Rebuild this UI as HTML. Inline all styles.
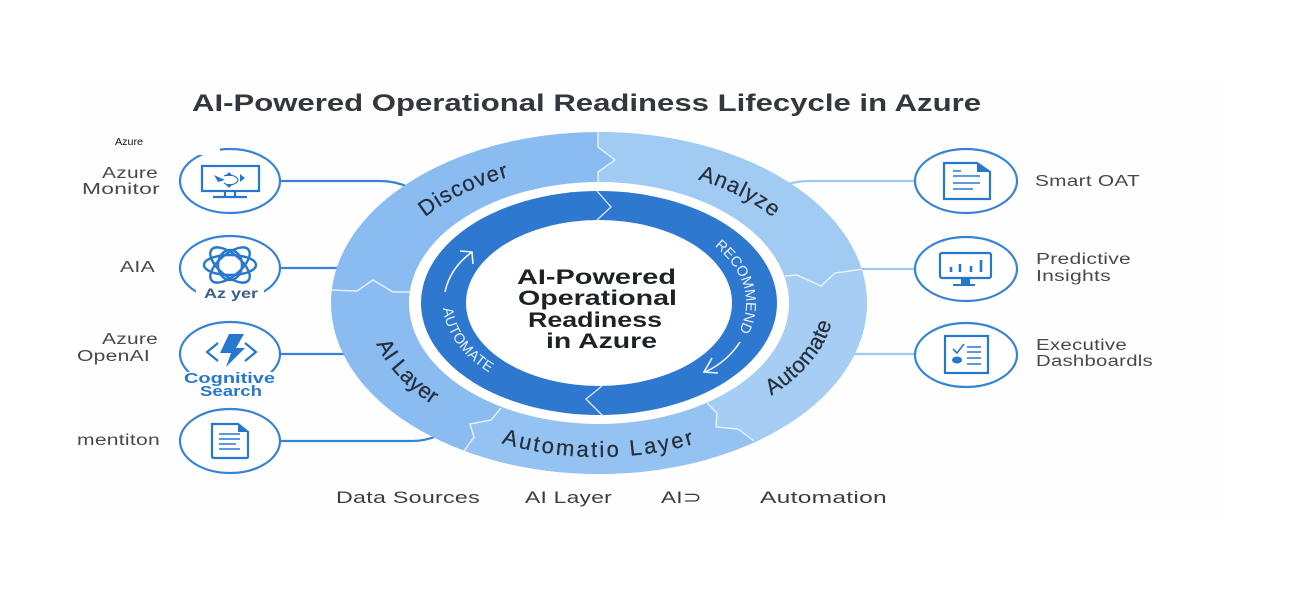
<!DOCTYPE html>
<html lang="en"><head><meta charset="utf-8"><title>AI-Powered Operational Readiness Lifecycle in Azure</title>
<style>
html,body{margin:0;padding:0;background:#fff;width:1300px;height:600px;overflow:hidden}
svg{display:block;position:absolute;left:0;top:0}
text{font-family:"Liberation Sans",sans-serif}
.l{font-size:15.5px;fill:#454a50;letter-spacing:.2px}
.t{font-size:21px;font-weight:bold;fill:#1f2328}
.r{font-size:22px;fill:#262f3b;letter-spacing:1.1px;stroke:#262f3b;stroke-width:.25px}
.w{font-size:14.5px;fill:#e6f0fb}
.ic{fill:none;stroke:#2878cf;stroke-width:2.2}
.c{fill:#fff;stroke:#3483d6;stroke-width:2.2}
</style></head><body>
<svg width="1300" height="600" viewBox="0 0 1300 600" xmlns="http://www.w3.org/2000/svg">
<defs>
<clipPath id="outer"><ellipse cx="599" cy="303" rx="268" ry="171"/></clipPath>
<path id="pTop" d="M377,303 A222,138 0 0 1 821,303"/>
<path id="pRight" d="M599,439 A235,136 0 0 0 599,167"/>
<path id="pBot" d="M367,303 A232,146 0 0 0 831,303"/>
<path id="pAuto" d="M364,303 A235,154 0 0 0 834,303"/>
<path id="pInL" d="M443,303 A156,98 0 0 0 755,303"/>
<path id="pInR" d="M599,211 A147,92 0 0 1 599,395"/>
<filter id="soft" x="0" y="0" width="100%" height="100%"><feGaussianBlur stdDeviation="0.3"/></filter>
</defs>
<rect x="78" y="78" width="1144" height="444" fill="#fefefe"/>
<g filter="url(#soft)">
<text x="192" y="111" textLength="789" lengthAdjust="spacingAndGlyphs" style="font-size:24px;font-weight:bold;fill:#33373c">AI-Powered Operational Readiness Lifecycle in Azure</text>

<!-- connectors -->
<g fill="none" stroke-width="2.2">
<path d="M281,181 H380 Q395,181 408,187" stroke="#3483d6"/>
<path d="M281,268 H340" stroke="#3483d6"/>
<path d="M281,354 H345" stroke="#3483d6"/>
<path d="M281,441 H412 Q425,441 437,436" stroke="#3483d6"/>
<path d="M788,184 Q798,181 810,181 H914" stroke="#9cc8f2"/>
<path d="M855,269 H914" stroke="#9cc8f2"/>
<path d="M850,354 H914" stroke="#9cc8f2"/>
</g>

<!-- outer ring -->
<ellipse cx="599" cy="303" rx="268" ry="171" fill="#8abcf1"/>
<g clip-path="url(#outer)">
<path d="M598,120 V147 L615,160 L598,172 V200 L785,276 L797,275 L821,286 L835,273 L880,267 V120 Z" fill="#a2cbf3"/>
<path d="M785,276 L797,275 L821,286 L835,273 L880,267 V400 L754,441 L738,429 L716,427 L717,413 L707,403 L700,330 Z" fill="#a6cdf3"/>
<path d="M501,408 L491,420 L470,424 L474,437 L464,451 L480,490 H760 L754,441 L738,429 L716,427 L717,413 L707,403 L600,380 Z" fill="#94c3f2"/>
<g fill="none" stroke="#e8f2fc" stroke-width="1.4">
<path d="M598,130 V147 L615,160 L598,172 V184"/>
<path d="M329,290 L357,291 L373,280 L393,292 L410,292"/>
<path d="M785,276 L797,275 L821,286 L835,273 L864,269"/>
<path d="M707,403 L717,413 L716,427 L738,429 L754,441"/>
<path d="M501,408 L491,420 L470,424 L474,437 L464,451"/>
</g>
</g>
<ellipse cx="599" cy="303" rx="190" ry="121" fill="#fff"/>
<ellipse cx="599" cy="303" rx="178" ry="112" fill="#2f79cf"/>
<g fill="none" stroke="#dbe9f8" stroke-width="1.3">
<path d="M597,191 L611,207 L597,220"/>
<path d="M602,386 L586,399 L603,416"/>
</g>
<ellipse cx="599" cy="303" rx="133" ry="83" fill="#fff"/>

<!-- ring labels -->
<text class="r"><textPath href="#pTop" startOffset="26%" text-anchor="middle">Discover</textPath></text>
<text class="r"><textPath href="#pTop" startOffset="75%" text-anchor="middle">Analyze</textPath></text>
<text class="r" style="letter-spacing:.4px"><textPath href="#pRight" startOffset="38.5%" text-anchor="middle">Automate</textPath></text>
<text class="r" style="letter-spacing:.2px"><textPath href="#pBot" startOffset="14%" text-anchor="middle">AI Layer</textPath></text>
<text class="r" style="letter-spacing:2.5px"><textPath href="#pAuto" startOffset="50%" text-anchor="middle">Automatio Layer</textPath></text>
<text class="w" style="letter-spacing:.4px"><textPath href="#pInL" startOffset="11.5%" text-anchor="middle">AUTOMATE</textPath></text>
<text class="w"><textPath href="#pInR" startOffset="45%" text-anchor="middle">RECOMMEND</textPath></text>

<!-- inner arrows -->
<g fill="none" stroke="#eef5fc" stroke-width="1.6">
<path d="M445,292 Q450,268 472,252 M460,251 L472,252 L473,264"/>
<path d="M740,342 Q727,362 705,372 M712,358 L704,372 L718,373"/>
</g>

<!-- center text -->
<text class="t" x="517" y="284" textLength="159" lengthAdjust="spacingAndGlyphs">AI-Powered</text>
<text class="t" x="518" y="305" textLength="159" lengthAdjust="spacingAndGlyphs">Operational</text>
<text class="t" x="528" y="327" textLength="134" lengthAdjust="spacingAndGlyphs">Readiness</text>
<text class="t" x="546" y="348" textLength="111" lengthAdjust="spacingAndGlyphs">in Azure</text>

<!-- left circles -->
<ellipse class="c" cx="230" cy="181" rx="50" ry="32"/>
<rect x="196" y="145" width="24" height="10" fill="#fefefe"/>
<ellipse class="c" cx="230" cy="268" rx="50" ry="32"/>
<rect x="196" y="286" width="68" height="16" fill="#fefefe"/>
<ellipse class="c" cx="230" cy="354" rx="50" ry="32"/>
<rect x="184" y="372" width="92" height="28" fill="#fefefe"/>
<ellipse class="c" cx="230" cy="441" rx="50" ry="32"/>

<!-- monitor icon -->
<rect class="ic" x="202" y="166" width="57" height="25"/>
<path class="ic" d="M225,191 V197 M235,191 V197 M213,197 H247"/>
<path d="M225,180 L214,175 L218,182 Z M229,172 L233,176 H225 Z M229,188 L233,184 H225 Z M245,178 L240,174 V182 Z" fill="#2878cf"/>
<path d="M224,176 Q229,173 236,177 Q240,180 236,183 Q229,187 224,183" fill="none" stroke="#2878cf" stroke-width="1.2"/>

<!-- knot icon -->
<g fill="none" stroke="#2878cf" stroke-width="2.4">
<ellipse cx="230" cy="265" rx="26" ry="10"/>
<ellipse cx="230" cy="265" rx="24" ry="11" transform="rotate(40 230 265)"/>
<ellipse cx="230" cy="265" rx="24" ry="11" transform="rotate(-40 230 265)"/>
<ellipse cx="230" cy="265" rx="12" ry="15"/>
</g>
<text x="204" y="298" textLength="54" lengthAdjust="spacingAndGlyphs" style="font-size:14px;font-weight:bold;fill:#3a5f88">Az yer</text>

<!-- bolt icon -->
<path d="M229,334 H244 L236,348 H245 L226,367 L231,353 H220 Z" fill="#2878cf"/>
<path d="M218,343 L207,352 L218,361 M245,343 L256,352 L245,361" fill="none" stroke="#2878cf" stroke-width="2.2"/>
<text x="184" y="383" textLength="91" lengthAdjust="spacingAndGlyphs" style="font-size:14.5px;font-weight:bold;fill:#2878cf">Cognitive</text>
<text x="200" y="396" textLength="62" lengthAdjust="spacingAndGlyphs" style="font-size:14.5px;font-weight:bold;fill:#2878cf">Search</text>

<!-- doc icon left -->
<path class="ic" d="M212,424 H238 L248,432 V457 Q248,458 246,458 H214 Q212,458 212,456 Z"/>
<path d="M238,424 L248,432 H238 Z" fill="#2878cf"/>
<path class="ic" d="M219,434 H240 M219,439 H240 M219,444 H236 M219,449 H240" style="stroke-width:1.5"/>

<!-- right circles -->
<ellipse class="c" cx="966" cy="181" rx="51" ry="32"/>
<ellipse class="c" cx="966" cy="269" rx="51" ry="32"/>
<ellipse class="c" cx="966" cy="355" rx="51" ry="32"/>

<!-- doc icon right -->
<path class="ic" d="M944,163 H977 L990,172 V199 H944 Z"/>
<path d="M977,163 L990,172 H977 Z" fill="#2878cf"/>
<path class="ic" d="M953,171 H961 M953,176 H980 M953,183 H980 M953,189 H973" style="stroke-width:1.6"/>

<!-- predictive icon -->
<rect class="ic" x="940" y="253" width="51" height="25" rx="2"/>
<path d="M961,278 H970 V284 H975 V286 H953 V284 H961 Z" fill="#2878cf"/>
<path d="M951,267 V272 M960,264 V272 M971,266 V272 M981,260 V272" stroke="#2878cf" stroke-width="2.6" fill="none"/>

<!-- dashboard icon -->
<rect class="ic" x="945" y="336" width="43" height="37"/>
<path d="M953,349 L957,353 L964,344 M967,347 H981 M967,352 H981 M967,358 H981 M967,364 H981" class="ic" style="stroke-width:1.6"/>
<ellipse cx="957" cy="360" rx="5" ry="3.5" fill="#2878cf"/>

<!-- labels -->
<text class="l" x="102" y="178" textLength="56" lengthAdjust="spacingAndGlyphs">Azure</text>
<text class="l" x="82" y="194" textLength="78" lengthAdjust="spacingAndGlyphs">Monitor</text>
<text class="l" x="120" y="272" textLength="35" lengthAdjust="spacingAndGlyphs">AIA</text>
<text class="l" x="102" y="344" textLength="56" lengthAdjust="spacingAndGlyphs">Azure</text>
<text class="l" x="77" y="361" textLength="73" lengthAdjust="spacingAndGlyphs">OpenAI</text>
<text class="l" x="77" y="445" textLength="83" lengthAdjust="spacingAndGlyphs">mentiton</text>
<text class="l" x="1035" y="186" textLength="105" lengthAdjust="spacingAndGlyphs">Smart OAT</text>
<text class="l" x="1036" y="264" textLength="95" lengthAdjust="spacingAndGlyphs">Predictive</text>
<text class="l" x="1036" y="281" textLength="75" lengthAdjust="spacingAndGlyphs">Insights</text>
<text class="l" x="1036" y="350" textLength="91" lengthAdjust="spacingAndGlyphs">Executive</text>
<text class="l" x="1036" y="366" textLength="117" lengthAdjust="spacingAndGlyphs">Dashboardls</text>
<text class="l" x="336" y="503" textLength="144" lengthAdjust="spacingAndGlyphs" style="font-size:17px;fill:#3a3e44">Data Sources</text>
<text class="l" x="525" y="503" textLength="87" lengthAdjust="spacingAndGlyphs" style="font-size:17px;fill:#3a3e44">AI Layer</text>
<text class="l" x="661" y="503" textLength="41" lengthAdjust="spacingAndGlyphs" style="font-size:17px;fill:#3a3e44">AI⊃</text>
<text class="l" x="760" y="503" textLength="127" lengthAdjust="spacingAndGlyphs" style="font-size:17px;fill:#3a3e44">Automation</text>
</g>
<text x="115" y="145" textLength="28" lengthAdjust="spacingAndGlyphs" style="font-size:10.5px;fill:#111">Azure</text>
</svg>
</body></html>
